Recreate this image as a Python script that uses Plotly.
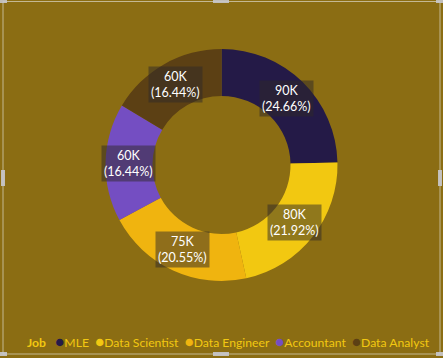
import math
import plotly.graph_objects as go

# ---- data ----
jobs = ["MLE", "Data Scientist", "Data Engineer", "Accountant", "Data Analyst"]
salaries = [90000, 80000, 75000, 60000, 60000]
colors = ["#241A47", "#F2C811", "#F0B40F", "#744EC2", "#5C4014"]
legend_title = "Job"

W, H = 443, 358
BG = "#8B6D13"
TXT = "#F2C811"
FONT = "Lato, 'Noto Sans', sans-serif"
M_T, M_B, M_L, M_R = 49, 77, 0, 0
plot_w = W - M_L - M_R
plot_h = H - M_T - M_B

fig = go.Figure()
fig.add_trace(go.Pie(
    labels=jobs, values=salaries, hole=0.595, sort=False,
    direction="clockwise", rotation=0,
    marker=dict(colors=colors, line=dict(width=0)),
    textinfo="none", hoverinfo="label+value+percent",
    showlegend=False,
))

# data labels with dark translucent boxes, placed at each slice's mid-angle
total = sum(salaries)
outer_r = min(plot_w, plot_h) / 2
label_r = outer_r * 0.80
cum = 0
anns = []
for v in salaries:
    mid = (cum + v / 2) / total * 2 * math.pi
    cum += v
    xp = 0.5 + label_r * math.sin(mid) / plot_w
    yp = 0.5 + label_r * math.cos(mid) / plot_h
    anns.append(dict(
        x=xp, y=yp, xref="paper", yref="paper", showarrow=False,
        xanchor="center", yanchor="middle",
        text=f"{v/1000:.0f}K<br>({v/total*100:.2f}%)",
        font=dict(family=FONT, size=12.5, color="white"),
        bgcolor="rgba(45,40,40,0.5)", borderpad=2, align="center",
    ))

# legend line built from categories and colors
parts = [f"<b>{legend_title}</b> "]
for j, c in zip(jobs, colors):
    parts.append(f"<span style='color:{c};font-size:15px'>●</span>{j}")
legend_text = "  ".join(parts)
anns.append(dict(
    x=(432 - M_L) / plot_w, y=(H - M_B - 341) / plot_h, xref="paper", yref="paper",
    xanchor="right", yanchor="middle", showarrow=False,
    text=legend_text, font=dict(family=FONT, size=12.2, color=TXT),
))

def px(x):
    return (x - M_L) / plot_w

def py(y):
    return (H - M_B - y) / plot_h

shapes = [dict(type="rect", xref="paper", yref="paper",
               x0=px(3), x1=px(440), y0=py(1.5), y1=py(354),
               line=dict(color="rgba(215,210,190,0.75)", width=1))]
# selection handles
hcol = "rgba(200,200,205,0.9)"
for (cx, cy, w, h) in [(3, 1, 8, 4), (440, 1, 8, 4), (3, 354, 8, 4), (440, 354, 8, 4),
                        (221, 1, 16, 4), (221, 354, 16, 4), (3, 178, 4, 16), (440, 178, 4, 16)]:
    shapes.append(dict(type="rect", xref="paper", yref="paper",
                       x0=px(cx - w / 2), x1=px(cx + w / 2), y0=py(cy - h / 2), y1=py(cy + h / 2),
                       fillcolor=hcol, line=dict(width=0)))

fig.update_layout(
    width=W, height=H, paper_bgcolor=BG, plot_bgcolor=BG,
    margin=dict(t=M_T, b=M_B, l=M_L, r=M_R),
    annotations=anns, shapes=shapes, showlegend=False,
    font=dict(family=FONT),
)
fig.write_html(
    "out.html",
    config={"displayModeBar": False},
    post_script="document.body.style.margin='0';document.body.style.overflow='hidden';",
)
